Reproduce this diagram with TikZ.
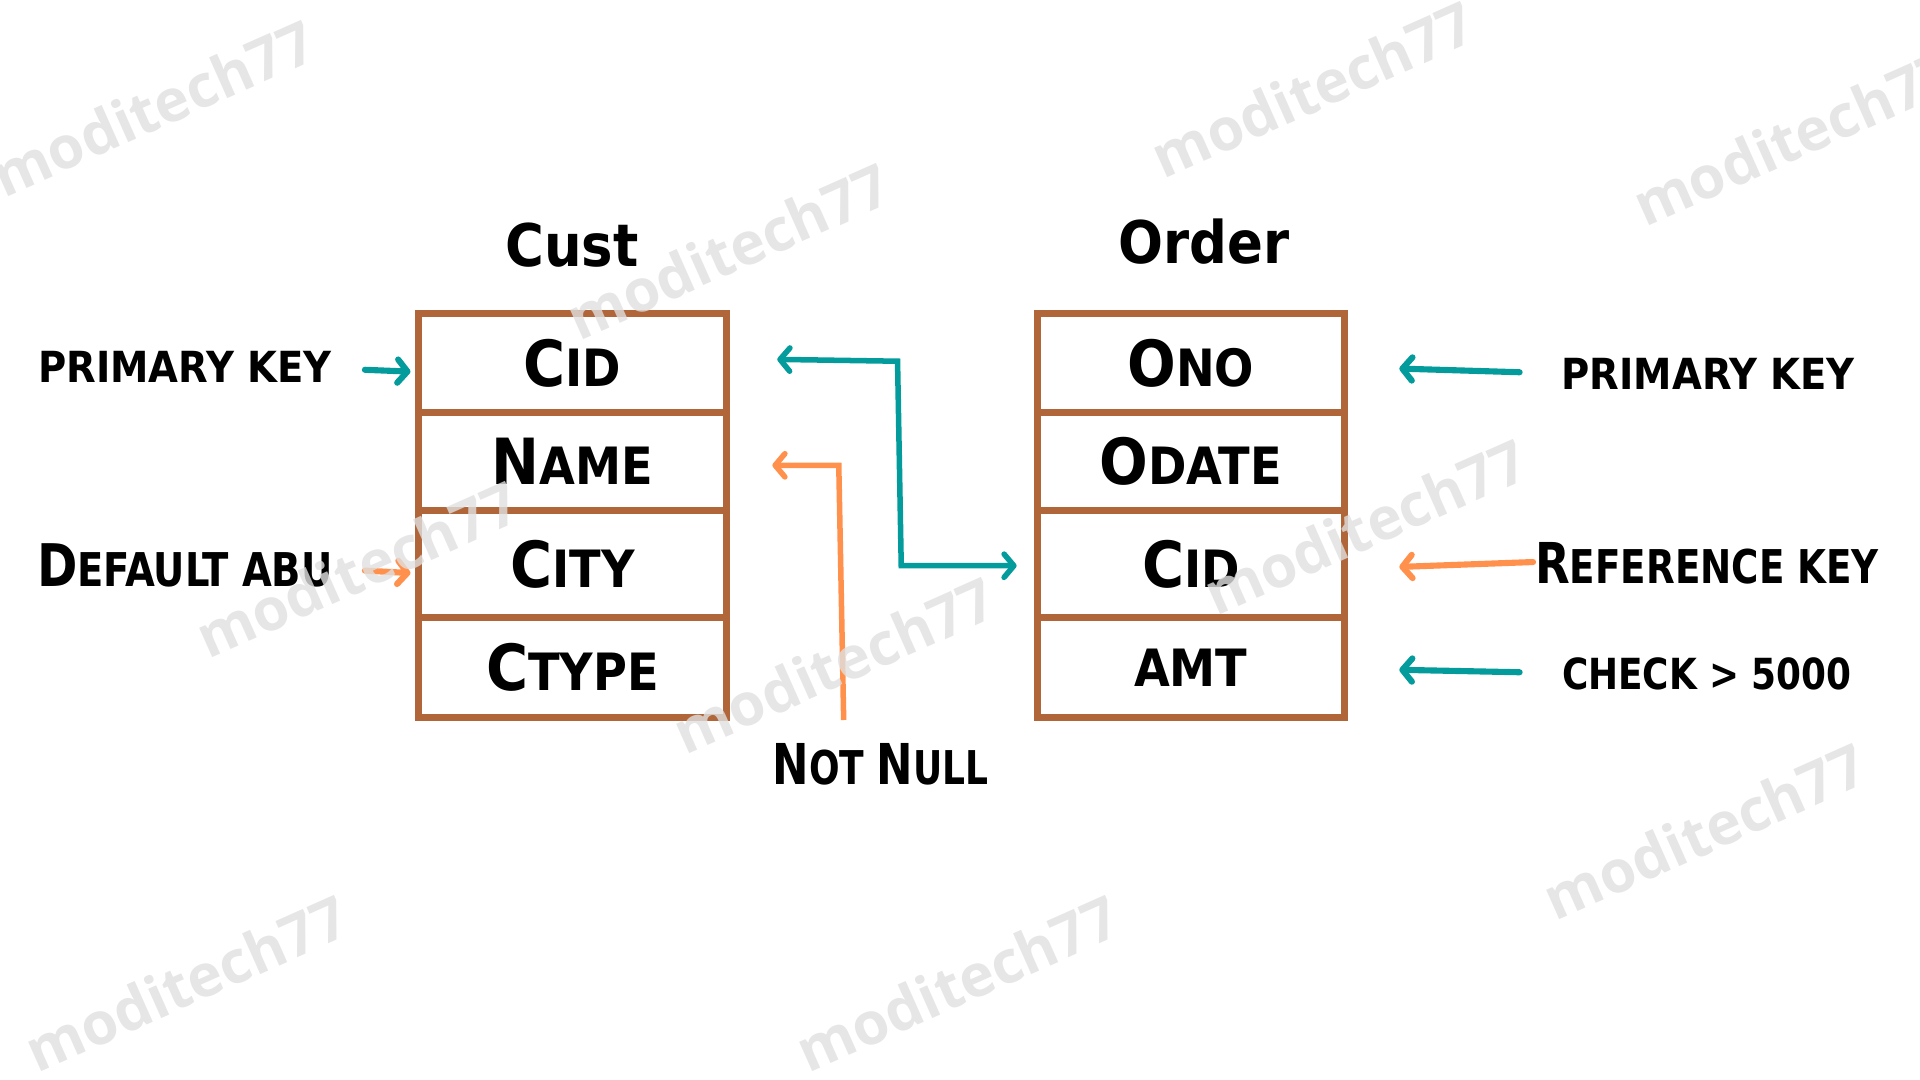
\documentclass[tikz,border=0pt]{standalone}
\usepackage{fontspec}
\usepackage{graphicx}
\usetikzlibrary{arrows.meta}
\newfontfamily\hf{DejaVu Sans Condensed}[BoldFont={DejaVu Sans Condensed Bold}]
\newfontfamily\wmf{Open Sans}
\definecolor{brownC}{RGB}{177,102,58}
\definecolor{tealC}{RGB}{3,155,155}
\definecolor{orangeC}{RGB}{255,145,77}
\newcommand\fs[1]{\fontsize{#1}{#1}\selectfont}
\newcommand\cellt[2]{{\fs{52}#1}{\fs{42}#2}}
\begin{document}
\begin{tikzpicture}[x=1pt,y=-1pt,
  row/.style={draw=brownC,line width=5.5pt,minimum width=251pt,inner sep=0pt,font=\hf\bfseries},
  ttl/.style={font=\hf\bfseries\fs{48},inner sep=0pt},
  lab/.style={font=\hf\bfseries\fs{35},inner sep=0pt},
  tipb/.tip={Straight Barb[length=8pt,width=19pt,line cap=round,line join=round]},
  arr/.style={line width=5pt,line cap=round,-tipb},
  conn/.style={line width=4.5pt,line join=miter},
  wm/.style={font=\wmf\bfseries\fs{48},text=black!12,text opacity=0.8,rotate=24,inner sep=0pt}
]
\useasboundingbox (0,0) rectangle (1568,882);

% Cust table
\node[row,minimum height=81pt] (c1) at (467.5,296.5) {\cellt{C}{ID}};
\node[row,minimum height=80pt] (c2) at (467.5,377) {\cellt{N}{AME}};
\node[row,minimum height=87pt] (c3) at (467.5,460.5) {\cellt{C}{ITY}};
\node[row,minimum height=82pt] (c4) at (467.5,545) {\cellt{C}{TYPE}};
% Order table
\node[row,minimum height=81pt] (o1) at (972.5,296.5) {\cellt{O}{NO}};
\node[row,minimum height=80pt] (o2) at (972.5,377) {\cellt{O}{DATE}};
\node[row,minimum height=87pt] (o3) at (972.5,460.5) {\cellt{C}{ID}};
\node[row,minimum height=82pt] (o4) at (972.5,545) {\cellt{}{AMT}};

% titles
\node[ttl] (tc) at (467,200) {Cust};
\node[ttl] (to) at (983,197) {Order};

% labels
\node[lab] (pkl) at (151,300) {PRIMARY KEY};
\node[lab] (dfl) at (151,462) {\scalebox{0.92}[1]{{\fs{48}D}{\fs{38}EFAULT ABU}}};
\node[lab] (nnl) at (719,624) {\scalebox{0.86}[1]{{\fs{46}N}{\fs{38}OT }{\fs{46}N}{\fs{38}ULL}}};
\node[lab] (pkr) at (1395,305) {PRIMARY KEY};
\node[lab] (rkl) at (1394,460) {\scalebox{0.89}[1]{{\fs{46}R}{\fs{38}EFERENCE KEY}}};
\node[lab] (ckl) at (1394,550) {\scalebox{0.93}[1]{CHECK > 5000}};

% coordinates
\coordinate (a1) at (298,302);
\coordinate (a2) at (298,466);
\coordinate (a3) at (1241,304);
\coordinate (a4) at (1252,459);
\coordinate (a5) at (1241,549);
\coordinate (k1) at (733,295);
\coordinate (k2) at (736,462);
\coordinate (k3) at (685,380);
\coordinate (nnt) at (689,588);

% short arrows
\draw[arr,tealC] (a1) -- ([xshift=-4pt,yshift=-7pt]c1.west);
\draw[arr,orangeC] (a2) -- ([xshift=-4pt,yshift=-7.5pt]c3.west);
\draw[arr,tealC] (a3) -- ([xshift=42pt,yshift=-4.5pt]o1.east);
\draw[arr,orangeC] (a4) -- ([xshift=42pt,yshift=-2.5pt]o3.east);
\draw[arr,tealC] (a5) -- ([xshift=42pt,yshift=-2pt]o4.east);

% connectors
\draw[conn,tealC,tipb-tipb] ([xshift=39pt,yshift=3pt]c1.east) -- (k1) -- (k2) -- ([xshift=-14pt,yshift=-1.5pt]o3.west);
\draw[conn,orangeC,-tipb] (nnt) -- (k3) -- ([xshift=35pt,yshift=-3pt]c2.east);

% watermarks
\node[wm] (w1) at (125,88) {moditech77};
\node[wm] (w2) at (595,205) {moditech77};
\node[wm] (w3) at (1072,73) {moditech77};
\node[wm] (w4) at (1465,112) {moditech77};
\node[wm] (w5) at (292,465) {moditech77};
\node[wm] (w6) at (681,543) {moditech77};
\node[wm] (w7) at (1115,430) {moditech77};
\node[wm] (w8) at (1392,679) {moditech77};
\node[wm] (w9) at (152,803) {moditech77};
\node[wm] (w10) at (782,803) {moditech77};
\end{tikzpicture}
\end{document}
